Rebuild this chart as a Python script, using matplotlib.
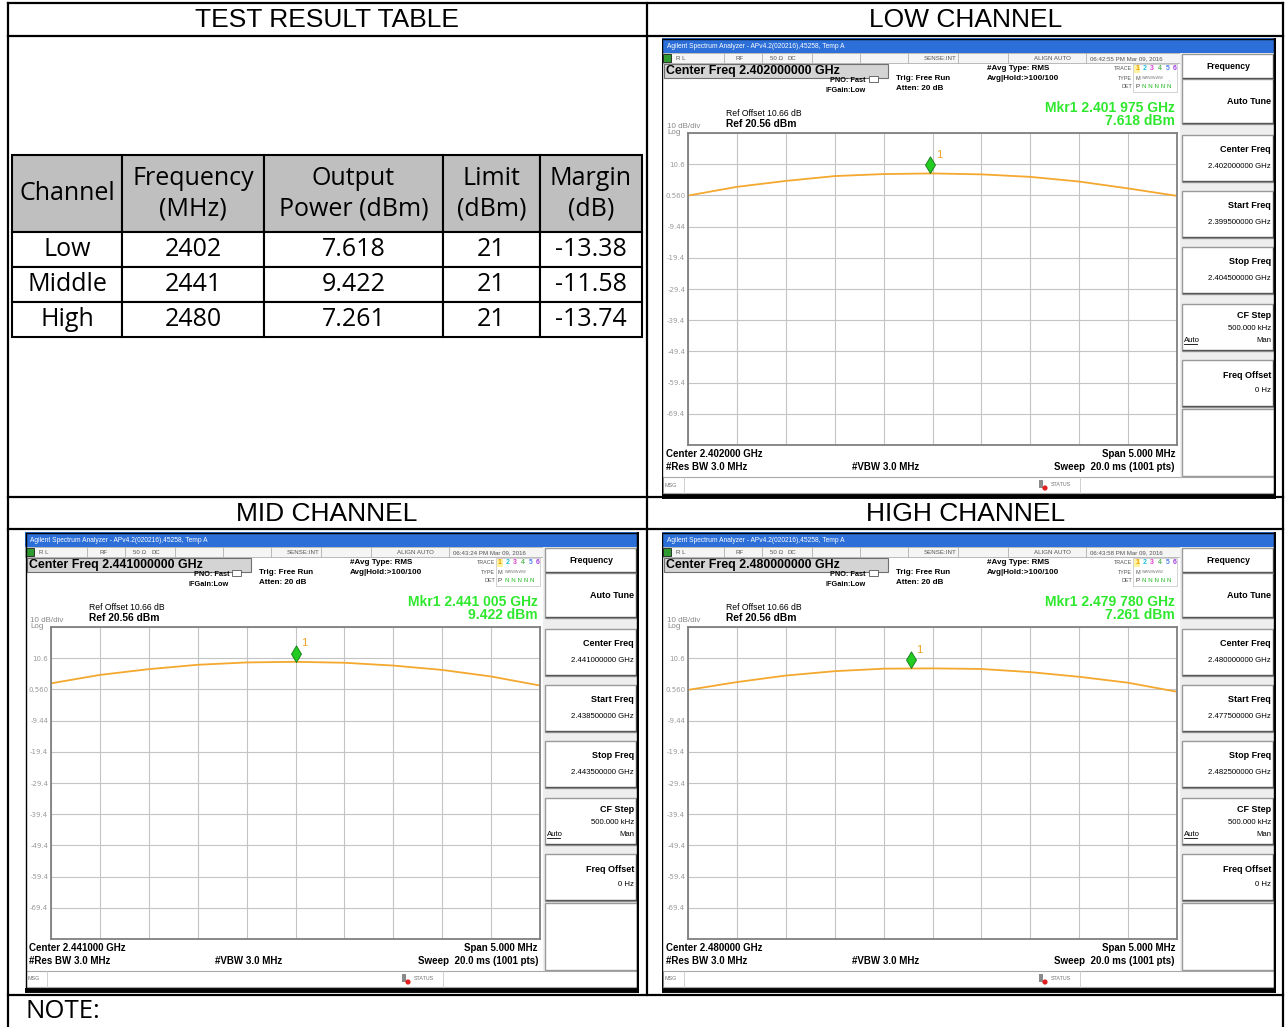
import matplotlib
matplotlib.use('Agg')
import matplotlib.pyplot as plt
from matplotlib.patches import Rectangle, Circle
from matplotlib.path import Path

# --- du lieu bang ket qua ---
channels = ['Low', 'Middle', 'High']
freq_mhz = [2402, 2441, 2480]
output_dbm = [7.618, 9.422, 7.261]
limit_dbm = [21, 21, 21]
margin_db = [-13.38, -11.58, -13.74]
header = ['Channel', 'Frequency\n(MHz)', 'Output\nPower (dBm)', 'Limit\n(dBm)', 'Margin\n(dB)']

# --- du lieu man hinh may phan tich pho ---
panel_titles = ['LOW CHANNEL', 'MID CHANNEL', 'HIGH CHANNEL']
sweep_times = ['06:42:55 PM Mar 09, 2016', '06:43:24 PM Mar 09, 2016', '06:43:58 PM Mar 09, 2016']
mkr_mhz = [2401.975, 2441.005, 2479.780]
offset_mhz = [-2.5, -2.0, -1.5, -1.0, -0.5, 0.0, 0.5, 1.0, 1.5, 2.0, 2.5]
low_trace = [0.5, 3.3, 5.2, 6.75, 7.4, 7.6, 7.3, 6.5, 5.0, 2.8, 0.4]
mid_trace = [2.5, 5.2, 7.05, 8.45, 9.2, 9.4, 9.1, 8.2, 6.8, 4.7, 1.8]
high_trace = [0.4, 2.9, 5.0, 6.4, 7.2, 7.3, 7.1, 6.1, 4.6, 2.7, -0.2]
traces = [low_trace, mid_trace, high_trace]
ref_level = 20.56
ytick_vals = [20.56, 10.56, 0.56, -9.44, -19.44, -29.44, -39.44, -49.44, -59.44, -69.44, -79.44]
ytick_labels = ['', '10.6', '0.560', '-9.44', '-19.4', '-29.4', '-39.4', '-49.4', '-59.4', '-69.4', '']

FW, FH = 1285, 1027
SW, SH = 614, 461
screen_origins = [(662, 38), (25, 532), (662, 532)]
TXT = 'Liberation Sans'


def px_axes(fig, x, y, w, h):
    return fig.add_axes([x / FW, 1 - (y + h) / FH, w / FW, h / FH])


def softkey(ax, top, h, title, value=None, centered=False):
    ax.add_patch(Rectangle((520, top), 92, h, facecolor='white', edgecolor='#9a9a9a', lw=1.0))
    ax.plot([521, 611, 611], [top + h - 1, top + h - 1, top + 1], color='#555555', lw=1.0)
    if centered:
        ax.text(566, top + h / 2, title, ha='center', va='center', fontsize=6.2, fontweight='bold', family=TXT)
    elif value is None:
        ax.text(609, top + h / 2, title, ha='right', va='center', fontsize=6.5, fontweight='bold', family=TXT)
    else:
        ax.text(609, top + 15, title, ha='right', va='center', fontsize=6.5, fontweight='bold', family=TXT)
        ax.text(609, top + 31, value, ha='right', va='center', fontsize=5.6, family=TXT)


def draw_screen(fig, i):
    x0, y0 = screen_origins[i]
    fc = freq_mhz[i]
    ax = px_axes(fig, x0, y0, SW, SH)
    ax.set_xlim(0, SW)
    ax.set_ylim(SH, 0)
    ax.axis('off')
    ax.add_patch(Rectangle((0, 0), SW, SH, facecolor='white', edgecolor='none'))

    # thanh tieu de xanh
    ax.add_patch(Rectangle((0, 0), SW, 15, facecolor='#2c6fd8', edgecolor='none'))
    ax.text(5, 8, 'Agilent Spectrum Analyzer - APv4.2(020216),45258, Temp A', color='white',
            fontsize=4.8, va='center', family=TXT)

    # hang trang thai
    ax.add_patch(Rectangle((0, 15), 518, 10, facecolor='#f5f5f5', edgecolor='#b0b0b0', lw=0.6))
    for sx in [62, 100, 150, 198, 246, 296, 346, 424]:
        ax.plot([sx, sx], [15, 25], color='#b0b0b0', lw=0.6)
    ax.add_patch(Rectangle((1, 16), 8, 8, facecolor='#2f9a2f', edgecolor='black', lw=0.5))
    for tx, s in [(14, 'R L'), (74, 'RF'), (108, '50 Ω'), (126, 'DC'), (262, 'SENSE:INT'),
                  (372, 'ALIGN AUTO'), (428, sweep_times[i])]:
        ax.text(tx, 20.5, s, fontsize=4.4, va='center', color='#555555', family=TXT)

    # o Center Freq
    ax.add_patch(Rectangle((2, 26), 224, 14, facecolor='#d4d4d4', edgecolor='#707070', lw=0.8))
    ax.text(4, 33, 'Center Freq %.9f GHz' % (fc / 1000), fontsize=8.9, fontweight='bold',
            va='center', family=TXT)
    ax.text(204, 42, 'PNO: Fast', fontsize=5.3, fontweight='bold', ha='right', va='center', family=TXT)
    ax.text(204, 53, 'IFGain:Low', fontsize=5.3, fontweight='bold', ha='right', va='center', family=TXT)
    ax.add_patch(Rectangle((207, 38), 9, 6, facecolor='white', edgecolor='#555555', lw=0.6))
    ax.text(234, 41, 'Trig: Free Run', fontsize=5.8, fontweight='bold', va='center', family=TXT)
    ax.text(234, 51, 'Atten: 20 dB', fontsize=5.8, fontweight='bold', va='center', family=TXT)
    ax.text(325, 31, '#Avg Type: RMS', fontsize=5.8, fontweight='bold', va='center', family=TXT)
    ax.text(325, 40, 'Avg|Hold:>100/100', fontsize=5.8, fontweight='bold', va='center', family=TXT)

    # hop trace / type / det
    ax.text(470, 31, 'TRACE', fontsize=3.9, ha='right', va='center', color='#555555', family=TXT)
    ax.text(470, 40, 'TYPE', fontsize=3.9, ha='right', va='center', color='#555555', family=TXT)
    ax.text(470, 49, 'DET', fontsize=3.9, ha='right', va='center', color='#555555', family=TXT)
    ax.add_patch(Rectangle((471, 26), 44, 28, facecolor='white', edgecolor='#c0c0c0', lw=0.5))
    ax.add_patch(Rectangle((472, 27), 6, 8, facecolor='#fff3a0', edgecolor='none'))
    for k, c in enumerate(['#e89a00', '#20c0e0', '#e040d0', '#5ab85a', '#5080f0', '#a040e0']):
        ax.text(475 + k * 7.6, 31, str(k + 1), fontsize=5, ha='center', va='center', color=c,
                fontweight='bold', family=TXT)
    ax.text(473, 40, 'M', fontsize=4, va='center', color='#555555', family=TXT)
    ax.text(480, 40, 'WWWWWW', fontsize=2.8, va='center', color='#777777', family=TXT)
    ax.text(473, 49, 'P', fontsize=4.4, va='center', color='#333333', family=TXT)
    ax.text(480, 49, 'N N N N N', fontsize=4.4, va='center', color='#22bb22', family=TXT)

    # chu marker mau xanh la
    g = '%.6f' % (mkr_mhz[i] / 1000)
    ax.text(513, 70, 'Mkr1 %s %s GHz' % (g[:5], g[5:]), fontsize=10, fontweight='bold',
            color='#2ee82e', ha='right', va='center', family=TXT)
    ax.text(513, 83, '%.3f dBm' % output_dbm[i], fontsize=10, fontweight='bold',
            color='#2ee82e', ha='right', va='center', family=TXT)
    ax.text(64, 75, 'Ref Offset 10.66 dB', fontsize=6.2, va='center', family=TXT)
    ax.text(64, 86, 'Ref %.2f dBm' % ref_level, fontsize=7.4, fontweight='bold', va='center', family=TXT)
    ax.text(5, 88, '10 dB/div', fontsize=5.8, va='center', color='#888888', family=TXT)
    ax.text(5, 95, 'Log', fontsize=5.8, va='center', color='#888888', family=TXT)

    # phan duoi
    ax.text(4, 416, 'Center %.6f GHz' % (fc / 1000), fontsize=7, fontweight='bold', va='center', family=TXT)
    ax.text(4, 429, '#Res BW 3.0 MHz', fontsize=7, fontweight='bold', va='center', family=TXT)
    ax.text(190, 429, '#VBW 3.0 MHz', fontsize=7, fontweight='bold', va='center', family=TXT)
    ax.text(513, 416, 'Span 5.000 MHz', fontsize=7, fontweight='bold', ha='right', va='center', family=TXT)
    ax.text(513, 429, 'Sweep  20.0 ms (1001 pts)', fontsize=7, fontweight='bold', ha='right',
            va='center', family=TXT)
    ax.add_patch(Rectangle((1, 439), 611, 16, facecolor='white', edgecolor='#a8a8a8', lw=0.8))
    ax.plot([22, 22], [439, 455], color='#c8c8c8', lw=0.6)
    ax.plot([418, 418], [439, 455], color='#c8c8c8', lw=0.6)
    ax.text(3, 447, 'MSG', fontsize=3.9, va='center', color='#777777', family=TXT)
    ax.add_patch(Rectangle((377, 442), 4, 8, facecolor='#8a8a8a', edgecolor='none'))
    ax.add_patch(Circle((383, 450), 2.6, facecolor='#e02020', edgecolor='none'))
    ax.text(389, 446, 'STATUS', fontsize=3.9, va='center', color='#777777', family=TXT)

    # bang phim mem ben phai
    ax.add_patch(Rectangle((518, 15), 96, 424, facecolor='#eeeeee', edgecolor='none'))
    softkey(ax, 16, 25, 'Frequency', centered=True)
    softkey(ax, 41, 45, 'Auto Tune')
    softkey(ax, 97, 47, 'Center Freq', '%.9f GHz' % (fc / 1000))
    softkey(ax, 153, 47, 'Start Freq', '%.9f GHz' % ((fc - 2.5) / 1000))
    softkey(ax, 209, 47, 'Stop Freq', '%.9f GHz' % ((fc + 2.5) / 1000))
    ax.add_patch(Rectangle((520, 266), 92, 47, facecolor='white', edgecolor='#9a9a9a', lw=1.0))
    ax.plot([521, 611, 611], [312, 312, 267], color='#555555', lw=1.0)
    ax.text(609, 278, 'CF Step', ha='right', va='center', fontsize=6.5, fontweight='bold', family=TXT)
    ax.text(609, 290, '500.000 kHz', ha='right', va='center', fontsize=5.6, family=TXT)
    ax.text(609, 302, 'Man', ha='right', va='center', fontsize=5.6, family=TXT)
    ax.text(522, 302, 'Auto', ha='left', va='center', fontsize=5.6, family=TXT)
    ax.plot([522, 535], [306, 306], color='black', lw=0.6)
    softkey(ax, 322, 47, 'Freq Offset', '0 Hz')
    ax.add_patch(Rectangle((520, 371), 92, 67, facecolor='white', edgecolor='#9a9a9a', lw=1.0))

    # vien ngoai
    ax.add_patch(Rectangle((0.5, 0.5), SW - 1, SH - 1, facecolor='none', edgecolor='black', lw=1.0))
    ax.plot([SW - 1.5, SW - 1.5], [0, SH], color='black', lw=2.5)
    ax.plot([0, SW], [SH - 3, SH - 3], color='black', lw=3.5)

    # vung do thi
    p = px_axes(fig, x0 + 26, y0 + 95, 489, 312)
    p.set_xlim(fc - 2.5, fc + 2.5)
    p.set_ylim(ytick_vals[-1], ytick_vals[0])
    p.set_xticks([fc + d for d in offset_mhz])
    p.set_xticklabels([])
    p.set_yticks(ytick_vals)
    p.set_yticklabels(ytick_labels)
    p.tick_params(length=0, pad=2, labelsize=5, labelcolor='#9a9a9a')
    p.grid(True, color='#c4c4c4', lw=0.8)
    for s in p.spines.values():
        s.set_color('#808080')
        s.set_linewidth(1.3)
    p.plot([fc + d for d in offset_mhz], traces[i], color='#f4a82e', lw=1.3)

    # marker hinh thoi, dinh duoi nam tren vet
    diamond = Path([(0, 0), (0.6, 1), (0, 2), (-0.6, 1), (0, 0)],
                   [Path.MOVETO, Path.LINETO, Path.LINETO, Path.LINETO, Path.CLOSEPOLY])
    p.plot([mkr_mhz[i]], [output_dbm[i]], marker=diamond, markersize=24, color='#22cc22',
           markeredgecolor='#117711', markeredgewidth=0.6, linestyle='none')
    p.annotate('1', (mkr_mhz[i], output_dbm[i]), xytext=(4, 11), textcoords='offset points',
               color='#f0a020', fontsize=8, family=TXT)


def main():
    fig = plt.figure(figsize=(FW / 100, FH / 100), dpi=100)
    page = fig.add_axes([0, 0, 1, 1])
    page.set_xlim(0, FW)
    page.set_ylim(FH, 0)
    page.axis('off')

    # khung trang
    lw = 1.6
    for yy in [3, 36, 497, 529, 995]:
        page.plot([8, 1283], [yy, yy], color='black', lw=lw)
    page.plot([8, 8], [3, FH], color='black', lw=lw)
    page.plot([1283, 1283], [3, FH], color='black', lw=lw)
    page.plot([647, 647], [3, 995], color='black', lw=lw)

    page.text(327, 20, 'TEST RESULT TABLE', ha='center', va='center', fontsize=19, family=TXT)
    for (cx, cy), t in zip([(966, 20), (327, 514), (966, 514)], panel_titles):
        page.text(cx, cy, t, ha='center', va='center', fontsize=19, family=TXT)
    page.text(25, 1012, 'NOTE:', ha='left', va='center', fontsize=18.5, family='Open Sans')

    # bang ket qua
    tax = px_axes(fig, 12, 155, 630, 182)
    tax.axis('off')
    rows = [[channels[k], str(freq_mhz[k]), '%.3f' % output_dbm[k], str(limit_dbm[k]),
             '%.2f' % margin_db[k]] for k in range(3)]
    tbl = tax.table(cellText=rows, colLabels=header, cellLoc='center', bbox=[0, 0, 1, 1])
    tbl.auto_set_font_size(False)
    colw = [110, 142, 179, 97, 102]
    for (r, c), cell in tbl.get_celld().items():
        cell.set_width(colw[c])
        cell.set_height(77 if r == 0 else 35)
        cell.set_linewidth(1.5)
        cell.set_edgecolor('black')
        cell.get_text().set_fontsize(18)
        cell.get_text().set_family('Open Sans')
        if r == 0:
            cell.set_facecolor('#bfbfbf')
            cell.get_text().set_linespacing(1.3)

    for i in range(3):
        draw_screen(fig, i)

    fig.savefig('out.png', dpi=100)


if __name__ == '__main__':
    main()
